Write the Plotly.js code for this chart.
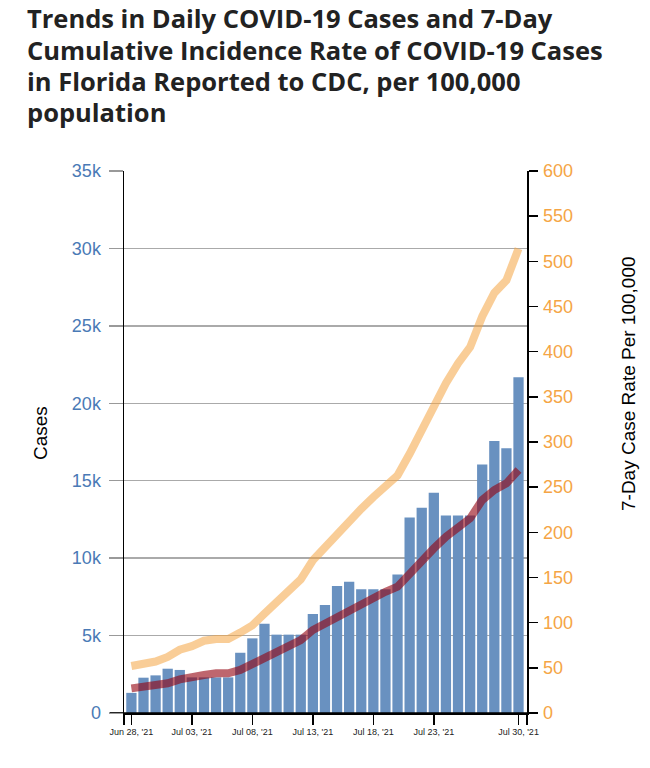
<!DOCTYPE html>
<html>
<head>
<meta charset="utf-8">
<script src="https://cdn.plot.ly/plotly-3.0.1.min.js"></script>
<style>
html,body{margin:0;padding:0;background:#fff;}
#chart{width:650px;height:768px;}
</style>
</head>
<body>
<div id="chart"></div>
<script>
// ---- data ----
const dates = [
  '2021-06-28','2021-06-29','2021-06-30','2021-07-01','2021-07-02','2021-07-03','2021-07-04',
  '2021-07-05','2021-07-06','2021-07-07','2021-07-08','2021-07-09','2021-07-10','2021-07-11',
  '2021-07-12','2021-07-13','2021-07-14','2021-07-15','2021-07-16','2021-07-17','2021-07-18',
  '2021-07-19','2021-07-20','2021-07-21','2021-07-22','2021-07-23','2021-07-24','2021-07-25',
  '2021-07-26','2021-07-27','2021-07-28','2021-07-29','2021-07-30'
];
const dailyCases = [
  1300, 2280, 2430, 2860, 2780, 2300, 2300,
  2300, 2300, 3890, 4820, 5770, 5060, 5060,
  5060, 6390, 6970, 8200, 8480, 7990, 7990,
  7990, 8950, 12630, 13260, 14230, 12760, 12760,
  12760, 16040, 17560, 17090, 21680
];
const sevenDayAvgCases = [
  1590, 1660, 1740, 1920, 2170, 2350, 2450,
  2560, 2560, 2780, 3140, 3570, 3960, 4330,
  4710, 5360, 5790, 6220, 6650, 7040, 7470,
  7830, 8160, 9020, 9770, 10630, 11380, 12030,
  12570, 13750, 14400, 14830, 15690
];
const sevenDayRate = [
  52, 54, 57, 62, 70, 74, 80,
  82, 82, 89, 97, 110, 123, 135,
  148, 169, 184, 199, 212, 226, 239,
  252, 263, 287, 313, 343, 365, 387,
  405, 439, 465, 479, 514
];
const xTickVals = ['2021-06-27 09:20','2021-06-28','2021-07-03','2021-07-08','2021-07-13','2021-07-18','2021-07-23','2021-07-30','2021-07-30 16:50'];
const xTickText = ['',"Jun 28, '21","Jul 03, '21","Jul 08, '21","Jul 13, '21","Jul 18, '21","Jul 23, '21","Jul 30, '21",''];
const titleLines = [
  'Trends in Daily COVID-19 Cases and 7-Day',
  'Cumulative Incidence Rate of COVID-19 Cases',
  'in Florida Reported to CDC, per 100,000',
  'population'
];
const leftTitle = 'Cases';
const rightTitle = '7-Day Case Rate Per 100,000';

const FONT = 'Liberation Sans, Arial, Helvetica, sans-serif';

const traces = [
  {
    type: 'bar', x: dates, y: dailyCases, yaxis: 'y',
    marker: {color: '#6991c0', line: {width: 0}},
    hoverinfo: 'skip', showlegend: false
  },
  {
    type: 'scatter', mode: 'lines', x: dates, y: sevenDayRate, yaxis: 'y2',
    line: {color: 'rgba(244,164,66,0.55)', width: 8},
    hoverinfo: 'skip', showlegend: false
  },
  {
    type: 'scatter', mode: 'lines', x: dates, y: sevenDayAvgCases, yaxis: 'y',
    line: {color: 'rgba(147,0,13,0.6)', width: 8},
    hoverinfo: 'skip', showlegend: false
  }
];

const plotW = 650 - 124 - 123;
const plotH = 713 - 171;
const px2x = p => (p - 124) / plotW;
const px2y = p => (713 - p) / plotH;

// title lines as annotations (to match the reference line spacing)
const titleCenters = [17.7, 50.3, 81.3, 111.5];
const titleAnns = titleLines.map((t, i) => ({
  text: t, xref: 'paper', yref: 'paper',
  x: px2x(26), y: px2y(titleCenters[i]), xanchor: 'left', yanchor: 'middle',
  showarrow: false, borderpad: 0,
  font: {family: 'Open Sans, sans-serif', size: 25.5, weight: 700, color: '#222'}
}));

const layout = {
  width: 650, height: 768,
  paper_bgcolor: '#fff', plot_bgcolor: '#fff',
  margin: {l: 124, r: 123, t: 171, b: 55, pad: 0},
  bargap: 0.15,
  font: {family: FONT, color: '#000'},
  xaxis: {
    type: 'date',
    range: ['2021-06-27 09:20', '2021-07-30 16:50'],
    tickmode: 'array', tickvals: xTickVals, ticktext: xTickText,
    ticks: 'outside', ticklen: 10, tickwidth: 1.5, tickcolor: '#000',
    tickfont: {size: 9, color: '#222', family: FONT},
    showline: true, linecolor: '#000', linewidth: 1.5,
    showgrid: false, zeroline: false
  },
  yaxis: {
    range: [0, 35000], dtick: 5000, tick0: 0, tickformat: '~s',
    ticks: 'outside', ticklen: 14, tickwidth: 1.3, tickcolor: '#999',
    tickfont: {size: 18, color: '#4a7ab6', family: FONT},
    ticklabelstandoff: 4,
    showline: true, linecolor: '#000', linewidth: 1.5,
    showgrid: true, gridcolor: '#aaa', gridwidth: 1.3,
    zeroline: false
  },
  yaxis2: {
    overlaying: 'y', side: 'right',
    range: [0, 600], dtick: 50, tick0: 0,
    ticks: 'outside', ticklen: 9, tickwidth: 1.5, tickcolor: '#000',
    tickfont: {size: 18, color: '#f5a545', family: FONT},
    ticklabelstandoff: 2,
    showline: true, linecolor: '#000', linewidth: 1.5,
    showgrid: false, zeroline: false
  },
  shapes: [
    {type: 'line', xref: 'paper', yref: 'y', x0: -14/plotW, x1: 1 + 10/plotW, y0: 0, y1: 0,
     line: {color: '#000', width: 1.5}, layer: 'above'}
  ],
  annotations: titleAnns.concat([
    {text: leftTitle, textangle: -90, xref: 'paper', yref: 'paper',
     x: px2x(40), y: px2y(433), xanchor: 'center', yanchor: 'middle',
     showarrow: false, font: {size: 19, color: '#000', family: FONT}},
    {text: rightTitle, textangle: -90, xref: 'paper', yref: 'paper',
     x: px2x(628), y: px2y(384), xanchor: 'center', yanchor: 'middle',
     showarrow: false, font: {size: 19, color: '#000', family: FONT}}
  ])
};

Plotly.newPlot('chart', traces, layout, {staticPlot: true, displayModeBar: false});
</script>
</body>
</html>
